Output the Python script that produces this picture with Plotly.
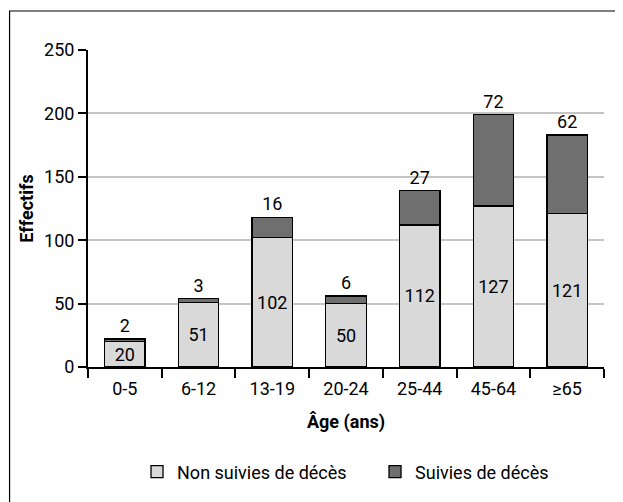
import plotly.graph_objects as go

# Données
age_groups = ['0-5', '6-12', '13-19', '20-24', '25-44', '45-64', '≥65']
non_suivies = [20, 51, 102, 50, 112, 127, 121]
suivies = [2, 3, 16, 6, 27, 72, 62]
y_ticks = [0, 50, 100, 150, 200, 250]

FONT = 'Roboto, sans-serif'

fig = go.Figure()

# Non suivies de décès (gris clair)
fig.add_trace(go.Bar(
    x=age_groups, y=non_suivies,
    name='Non suivies de décès',
    marker=dict(color='#d9d9d9', line=dict(color='black', width=1.3)),
    text=non_suivies, textposition='inside', insidetextanchor='middle',
    constraintext='none', textangle=0,
    textfont=dict(family=FONT, size=18, color='black'),
    width=0.55
))

# Suivies de décès (gris foncé)
fig.add_trace(go.Bar(
    x=age_groups, y=suivies,
    name='Suivies de décès',
    marker=dict(color='#6f6f6f', line=dict(color='black', width=1.3)),
    text=suivies, textposition='outside',
    constraintext='none', cliponaxis=False, textangle=0,
    textfont=dict(family=FONT, size=18, color='black'),
    width=0.55
))

fig.update_layout(
    barmode='stack',
    width=615, height=494,
    margin=dict(l=80, r=10, t=42, b=135),
    plot_bgcolor='white',
    paper_bgcolor='white',
    font=dict(family=FONT, size=18, color='black'),
    showlegend=True,
    legend=dict(
        orientation='h', traceorder='normal',
        x=0.095, xanchor='left', y=-0.331, yanchor='middle',
        font=dict(family=FONT, size=18),
        entrywidth=193, itemwidth=30,
    ),
    # cadre : bords droit et bas hors de l'image
    shapes=[dict(
        type='rect', xref='paper', yref='paper',
        x0=-0.152, x1=1.04, y0=-0.46, y1=1.123,
        line=dict(color='black', width=1.2), layer='below'
    )]
)

fig.update_xaxes(
    showline=True, linecolor='black', linewidth=2,
    ticks='outside', tickson='boundaries', ticklen=9, tickwidth=2,
    tickcolor='black', showgrid=False, ticklabelstandoff=4,
    tickfont=dict(family=FONT, size=18),
    title=dict(text='<b>Âge (ans)</b>', font=dict(family=FONT, size=18), standoff=18),
)

fig.update_yaxes(
    range=[0, 250], tickvals=y_ticks,
    showline=True, linecolor='black', linewidth=2,
    ticks='outside', ticklen=8, tickwidth=2, tickcolor='black',
    showgrid=True, gridcolor='#c4c4c4', gridwidth=1.5,
    zeroline=False,
    tickfont=dict(family=FONT, size=18),
    title=dict(text='<b>Effectifs</b>', font=dict(family=FONT, size=18), standoff=6),
)

fig.write_html('out.html')
